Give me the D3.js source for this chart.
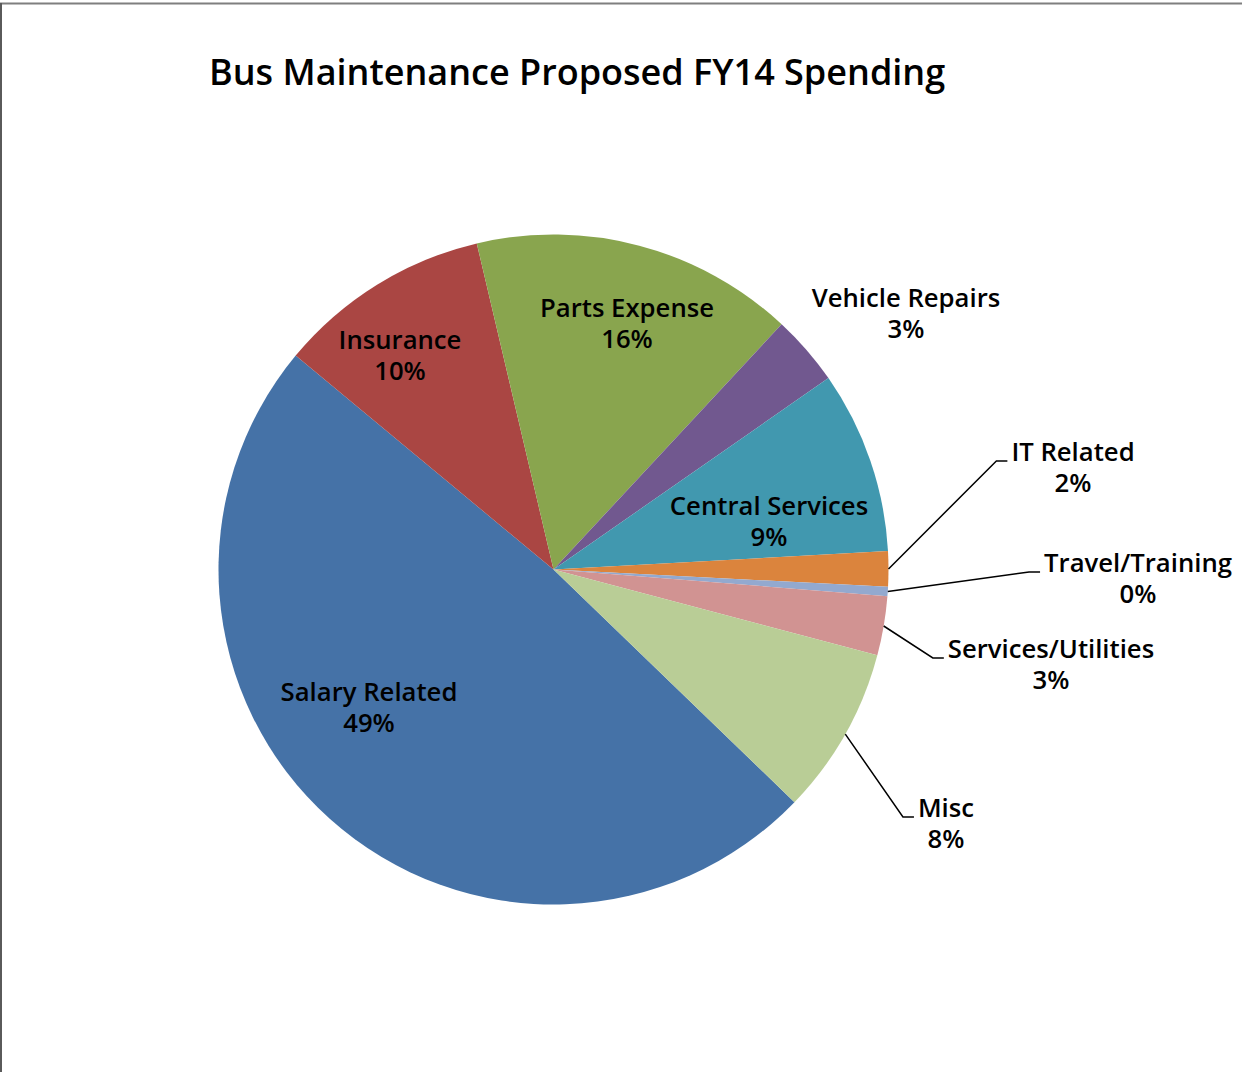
<!DOCTYPE html>
<html>
<head>
<meta charset="utf-8">
<script src="https://cdn.jsdelivr.net/npm/d3@7"></script>
<style>
  html, body { margin: 0; padding: 0; background: #fff; }
  svg { display: block; }
  text { font-family: "Open Sans", "DejaVu Sans", sans-serif; fill: #000; }
</style>
</head>
<body>
<svg id="chart" width="1242" height="1072"></svg>
<script>
// Proposed FY14 spending shares (percent of total)
const categories = ["Salary Related", "Insurance", "Parts Expense", "Vehicle Repairs",
  "Central Services", "IT Related", "Travel/Training", "Services/Utilities", "Misc"];
const shares = [48.8, 10.3, 15.6, 3.4, 8.8, 1.7, 0.45, 2.85, 8.1];
const colors = ["#4572A7", "#AA4643", "#89A54E", "#71588F", "#4198AF",
  "#DB843D", "#93A9CF", "#D19392", "#B9CD96"];
const title = "Bus Maintenance Proposed FY14 Spending";

// Label placement relative to the pie centre; leader = drawn with a callout line
const labelOffsets = [[-184.5, 138], [-153.5, -214], [73.5, -246], [352.5, -256],
  [215.5, -48], [519.5, -102], [584.5, 9], [497.5, 95], [392.5, 254]];
const hasLeader = [false, false, false, false, false, true, true, true, true];

const W = 1242, H = 1072;
const cx = 553.5, cy = 569.5, R = 335;
const svg = d3.select("#chart");

// chart area frame
svg.append("line").attr("x1", 0).attr("x2", W).attr("y1", 3.5).attr("y2", 3.5)
  .attr("stroke", "#7f7f7f").attr("stroke-width", 2);
svg.append("line").attr("x1", 1).attr("x2", 1).attr("y1", 3).attr("y2", H)
  .attr("stroke", "#5a5a5a").attr("stroke-width", 2);

svg.append("text").attr("x", 209).attr("y", 85)
  .attr("font-size", 36).attr("font-weight", 600)
  .text(title);

const total = d3.sum(shares);
const pie = d3.pie().sort(null).value(d => d)
  .startAngle(134 * Math.PI / 180).endAngle(134 * Math.PI / 180 + 2 * Math.PI);
const arcs = pie(shares);
const arc = d3.arc().innerRadius(0).outerRadius(R);

const g = svg.append("g").attr("transform", `translate(${cx},${cy})`);
g.selectAll("path.slice").data(arcs).join("path")
  .attr("class", "slice")
  .attr("d", arc)
  .attr("fill", (d, i) => colors[i]);

const fs = 25.7, lh = 31;
arcs.forEach((d, i) => {
  const [dx, dy] = labelOffsets[i];
  const lbl = g.append("text").attr("text-anchor", "middle")
    .attr("font-size", fs).attr("font-weight", 600);
  lbl.append("tspan").attr("x", dx).attr("y", dy - lh / 2 + 9).text(categories[i]);
  lbl.append("tspan").attr("x", dx).attr("y", dy + lh / 2 + 9)
    .text(Math.round(shares[i] / total * 100) + "%");
  if (hasLeader[i]) {
    const bb = lbl.node().getBBox();
    const mid = (d.startAngle + d.endAngle) / 2;
    const sx = R * Math.sin(mid), sy = -R * Math.cos(mid);
    const ex = bb.x - 4, ey = dy - 6.5;
    g.append("polyline")
      .attr("points", [[sx, sy], [ex - 11, ey], [ex, ey]].map(p => p.join(",")).join(" "))
      .attr("fill", "none").attr("stroke", "#000").attr("stroke-width", 1.5);
  }
});
</script>
</body>
</html>
